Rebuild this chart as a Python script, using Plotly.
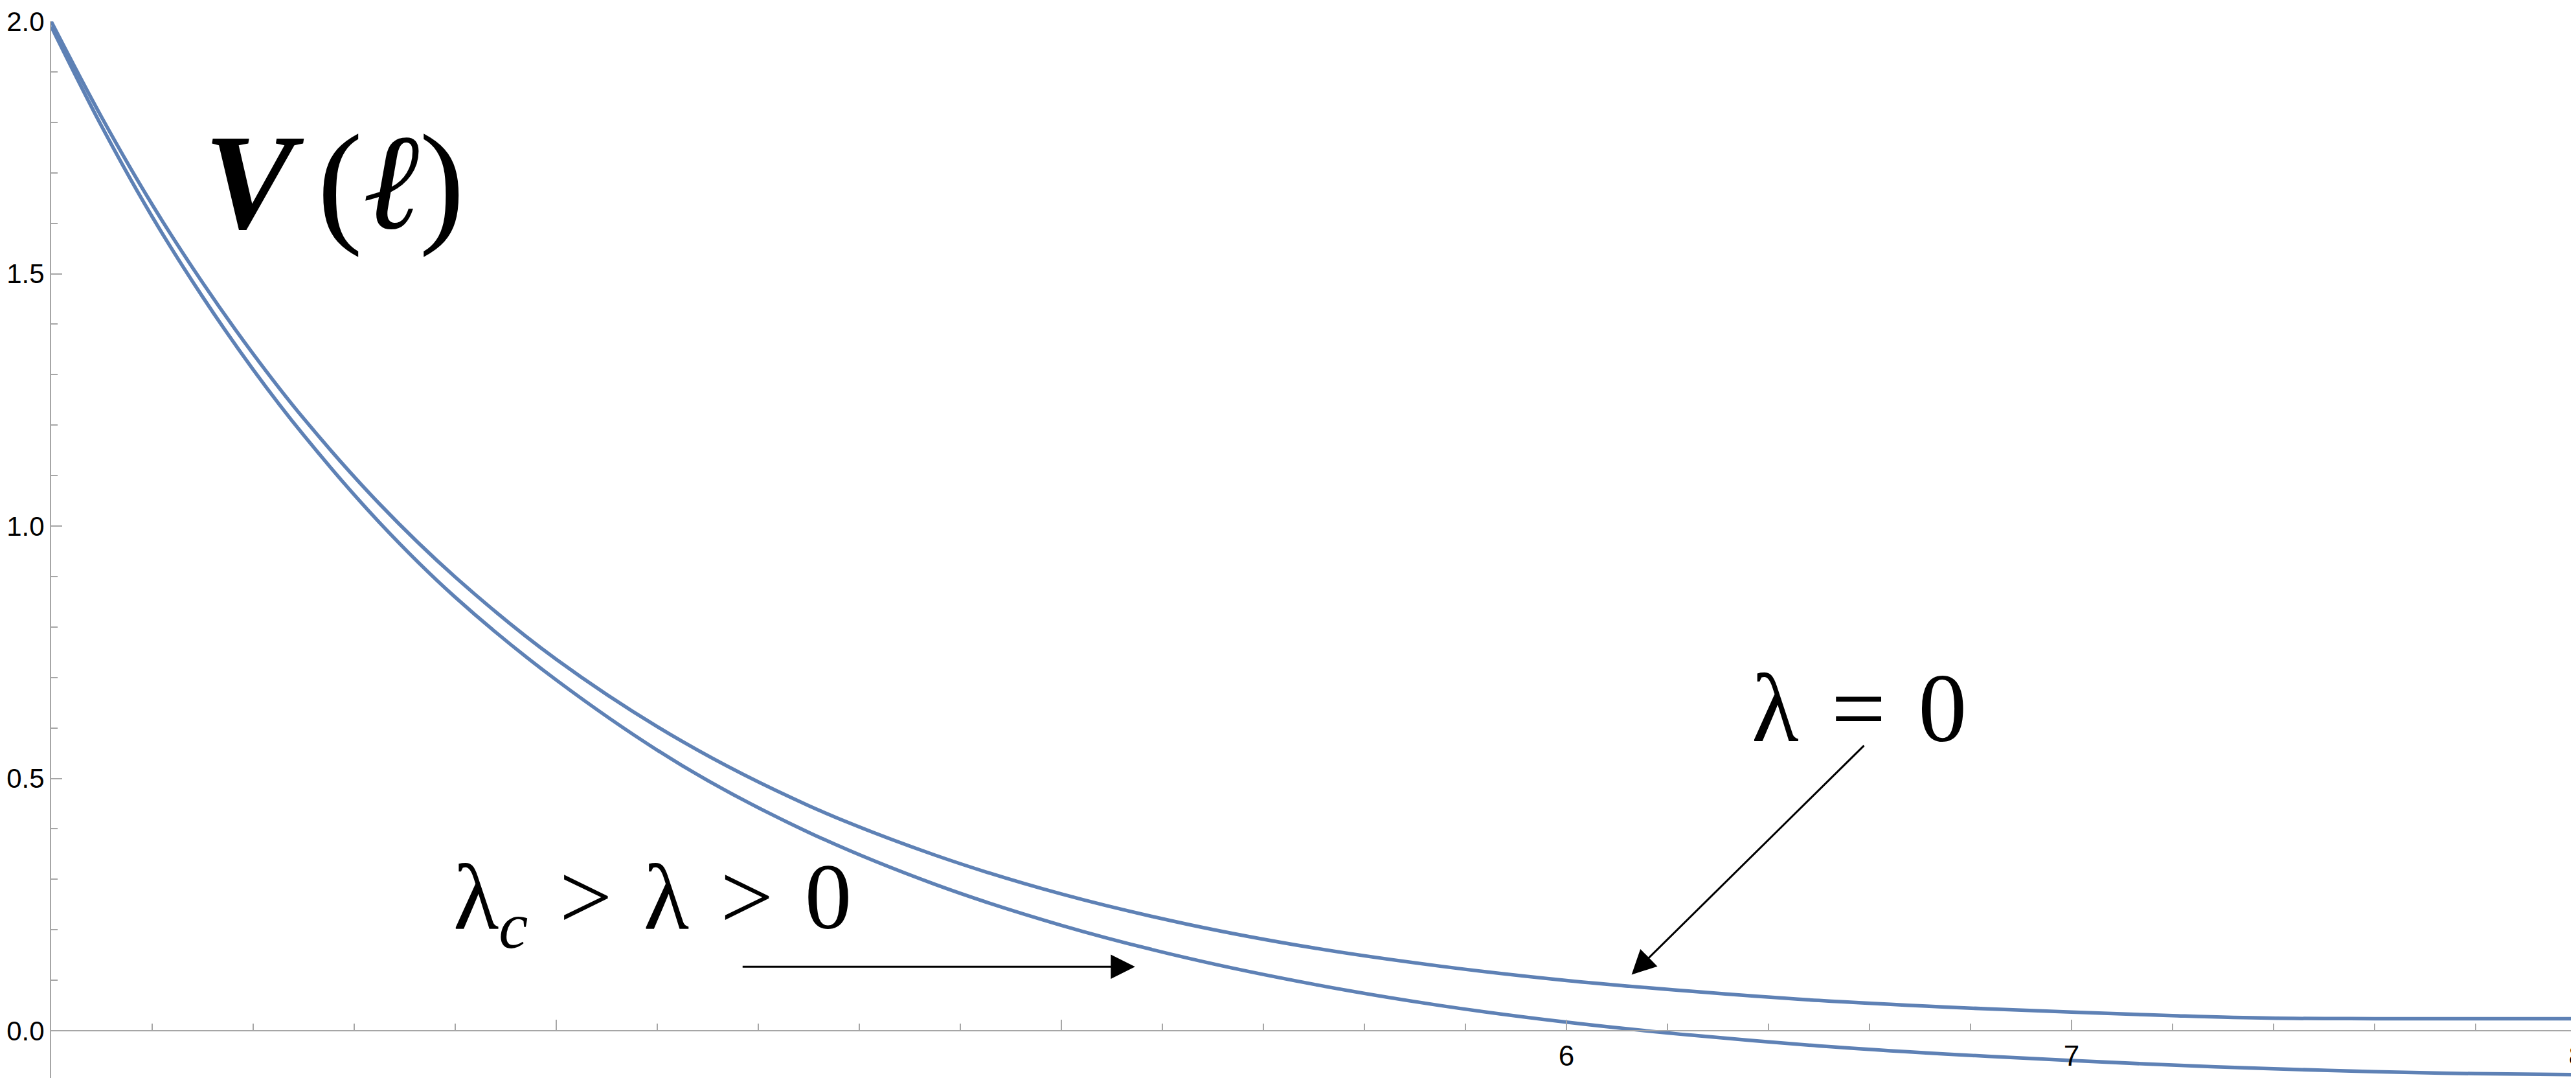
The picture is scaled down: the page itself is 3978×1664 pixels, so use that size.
import plotly.graph_objects as go

# ---- data ----
ell = [3.00, 3.10, 3.20, 3.30, 3.40, 3.50, 3.65, 3.80, 4.00, 4.25, 4.50, 4.75,
       5.00, 5.25, 5.50, 5.75, 6.00, 6.25, 6.50, 6.75, 7.00, 7.20, 7.39, 7.60, 7.80, 8.00]
v_lambda0 = [2.000, 1.810, 1.637, 1.482, 1.341, 1.213, 1.044, 0.899, 0.736, 0.573, 0.446, 0.348,
             0.271, 0.211, 0.164, 0.128, 0.0996, 0.078, 0.060, 0.047, 0.037, 0.030, 0.025, 0.024, 0.024, 0.024]
v_lambda_pos = [1.990, 1.792, 1.613, 1.454, 1.310, 1.180, 1.007, 0.859, 0.695, 0.525, 0.393, 0.290,
                0.209, 0.144, 0.092, 0.050, 0.017, -0.009, -0.030, -0.046, -0.059, -0.068, -0.075, -0.081, -0.085, -0.087]

x_tick_vals = [4, 5, 6, 7, 8]
x_tick_text = ["", "", "6", "7", "8"]
y_tick_vals = [0.0, 0.5, 1.0, 1.5, 2.0]
y_tick_text = ["0.0", "0.5", "1.0", "1.5", "2.0"]

x_range = [3, 8]
y_range = [-0.1, 2.0]

LINE = "#5E81B5"
AXIS = "#a6a6a6"
SERIF = "Liberation Serif, DejaVu Serif, serif"
SANS = "Liberation Sans, Arial, sans-serif"

fig = go.Figure()
for vals in (v_lambda0, v_lambda_pos):
    fig.add_trace(go.Scatter(x=ell, y=vals, mode="lines",
                             line=dict(color=LINE, width=5.5, shape="spline", smoothing=1.0),
                             showlegend=False, hoverinfo="skip"))

W, H = 3978, 1664
fig.update_layout(
    width=W, height=H,
    margin=dict(l=71, r=7, t=25, b=3),
    paper_bgcolor="white", plot_bgcolor="white",
    showlegend=False,
    xaxis=dict(range=x_range, showgrid=False, zeroline=False, showline=True,
               linecolor=AXIS, linewidth=2, ticks="inside", ticklen=16, tickwidth=2,
               tickcolor=AXIS, tickvals=x_tick_vals, ticktext=x_tick_text,
               tickfont=dict(family=SANS, size=44, color="black"),
               ticklabeloverflow="allow",
               minor=dict(ticks="inside", dtick=0.2, tick0=3, ticklen=10, tickwidth=1.5, tickcolor=AXIS),
               anchor="free", position=(0 - y_range[0]) / (y_range[1] - y_range[0]),
               automargin=False),
    yaxis=dict(range=y_range, showgrid=False, zeroline=False, showline=True,
               linecolor=AXIS, linewidth=2, ticks="inside", ticklen=17, tickwidth=2,
               tickcolor=AXIS, tickvals=y_tick_vals, ticktext=y_tick_text,
               tickfont=dict(family=SANS, size=42, color="black"),
               ticklabeloverflow="allow",
               minor=dict(ticks="inside", dtick=0.1, tick0=0, ticklen=10, tickwidth=1.5, tickcolor=AXIS),
               automargin=False),
)

# labels
fig.add_annotation(x=3.56, y=1.682, xref="x", yref="y", showarrow=False,
                   text="<b><i>V</i></b>\u2006(<i>\u2113</i>)",
                   font=dict(family=SERIF, size=210, color="black"),
                   xanchor="center", yanchor="middle")
fig.add_annotation(x=6.58, y=0.64, xref="x", yref="y", showarrow=False,
                   text="\u03bb\u2004=\u20040",
                   font=dict(family=SERIF, size=150, color="black"),
                   xanchor="center", yanchor="middle")
fig.add_annotation(x=4.19, y=0.252, xref="x", yref="y", showarrow=False,
                   text="\u03bb<sub><i>c</i></sub>\u2004>\u2004\u03bb\u2004>\u20040",
                   font=dict(family=SERIF, size=145, color="black"),
                   xanchor="center", yanchor="middle")

# arrows
fig.add_annotation(x=6.129, y=0.111, ax=6.591, ay=0.567, xref="x", yref="y",
                   axref="x", ayref="y", text="", showarrow=True,
                   arrowhead=2, arrowsize=2.5, arrowwidth=3, arrowcolor="black")
fig.add_annotation(x=5.146, y=0.127, ax=4.367, ay=0.127, xref="x", yref="y",
                   axref="x", ayref="y", text="", showarrow=True,
                   arrowhead=2, arrowsize=2.5, arrowwidth=3, arrowcolor="black")

fig.write_html("out.html")
